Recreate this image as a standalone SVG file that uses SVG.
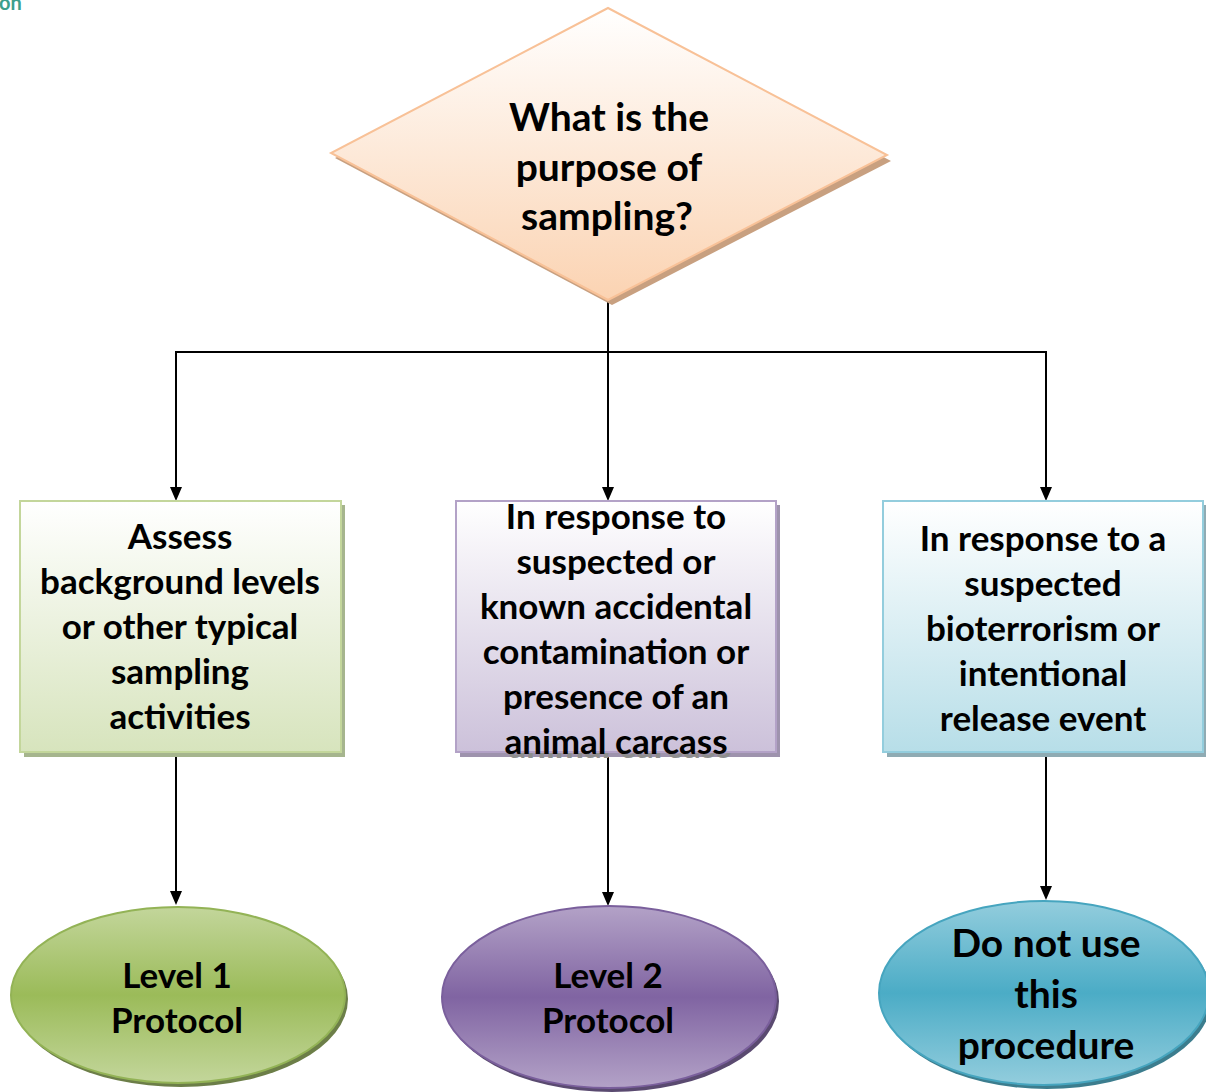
<svg xmlns="http://www.w3.org/2000/svg" width="1206" height="1092" viewBox="0 0 1206 1092">
<style>
.t{font-family:Lato,"Liberation Sans",sans-serif;font-weight:bold;fill:#000;text-anchor:middle}
.s37{font-size:35px}
.s41{font-size:39px}
.conn{stroke:#000;stroke-width:2;fill:none}
</style>
<defs>
<linearGradient id="gD" x1="0" y1="0" x2="0" y2="1"><stop offset="0" stop-color="#ffffff"/><stop offset="1" stop-color="#fbd3b2"/></linearGradient>
<linearGradient id="gB1" x1="0" y1="0" x2="0" y2="1"><stop offset="0" stop-color="#ffffff"/><stop offset="1" stop-color="#d7e4bd"/></linearGradient>
<linearGradient id="gB2" x1="0" y1="0" x2="0" y2="1"><stop offset="0" stop-color="#ffffff"/><stop offset="1" stop-color="#ccc1da"/></linearGradient>
<linearGradient id="gB3" x1="0" y1="0" x2="0" y2="1"><stop offset="0" stop-color="#ffffff"/><stop offset="1" stop-color="#b7dee8"/></linearGradient>
<linearGradient id="gE1" x1="0" y1="0" x2="0" y2="1"><stop offset="0" stop-color="#c3d69b"/><stop offset="0.5" stop-color="#9bbb59"/><stop offset="1" stop-color="#c3d69b"/></linearGradient>
<linearGradient id="gE2" x1="0" y1="0" x2="0" y2="1"><stop offset="0" stop-color="#b3a2c7"/><stop offset="0.5" stop-color="#8064a2"/><stop offset="1" stop-color="#b3a2c7"/></linearGradient>
<linearGradient id="gE3" x1="0" y1="0" x2="0" y2="1"><stop offset="0" stop-color="#93cddd"/><stop offset="0.5" stop-color="#4bacc6"/><stop offset="1" stop-color="#93cddd"/></linearGradient>
</defs>
<rect width="1206" height="1092" fill="#fff"/>
<text x="-1" y="10" style="font-family:Lato,'Liberation Sans',sans-serif;font-weight:bold;font-size:20px;fill:#3c9f8c">on</text>

<g id="connectors">
<line class="conn" x1="608" y1="300" x2="608" y2="488"/>
<polyline class="conn" points="176,488 176,352 1046,352 1046,488"/>
<path d="M170,487 L182,487 L176,501 Z M602,487 L614,487 L608,501 Z M1040,487 L1052,487 L1046,501 Z"/>
<line class="conn" x1="176" y1="752" x2="176" y2="892"/>
<line class="conn" x1="608" y1="752" x2="608" y2="893"/>
<line class="conn" x1="1046" y1="752" x2="1046" y2="887"/>
<path d="M170,891 L182,891 L176,905 Z M602,892 L614,892 L608,906 Z M1040,886 L1052,886 L1046,900 Z"/>
</g>

<g id="decision">
<polygon points="612,14 891,161 612,305 335,158" fill="#c8a080"/>
<polygon points="608,8 887,155 608,300 331,153" fill="url(#gD)" stroke="#f8c197" stroke-width="2"/>
<text class="t s41" x="609" y="131">What is the</text>
<text class="t s41" x="609" y="181">purpose of</text>
<text class="t s41" x="607" y="230">sampling?</text>
</g>

<g id="box1">
<rect x="24" y="505" width="321" height="252" fill="#a6b58e"/>
<rect x="20" y="501" width="321" height="251" fill="url(#gB1)" stroke="#c3d69b" stroke-width="2"/>
<text class="t s37" x="180" y="549">Assess</text>
<text class="t s37" x="180" y="594">background levels</text>
<text class="t s37" x="180" y="639">or other typical</text>
<text class="t s37" x="180" y="684">sampling</text>
<text class="t s37" x="180" y="729">activities</text>
</g>

<g id="box2">
<rect x="460" y="505" width="320" height="252" fill="#9e93ad"/>
<text class="t s37" x="620" y="758" style="fill:#8e8e8e">animal carcass</text>
<rect x="456" y="501" width="320" height="251" fill="url(#gB2)" stroke="#b3a2c7" stroke-width="2"/>
<text class="t s37" x="616" y="529">In response to</text>
<text class="t s37" x="616" y="574">suspected or</text>
<text class="t s37" x="616" y="619">known accidental</text>
<text class="t s37" x="616" y="664">contamination or</text>
<text class="t s37" x="616" y="709">presence of an</text>
<text class="t s37" x="616" y="754">animal carcass</text>
</g>

<g id="box3">
<rect x="887" y="505" width="320" height="252" fill="#8fabb3"/>
<rect x="883" y="501" width="320" height="251" fill="url(#gB3)" stroke="#93cddd" stroke-width="2"/>
<text class="t s37" x="1043" y="551">In response to a</text>
<text class="t s37" x="1043" y="596">suspected</text>
<text class="t s37" x="1043" y="641">bioterrorism or</text>
<text class="t s37" x="1043" y="686">intentional</text>
<text class="t s37" x="1043" y="731">release event</text>
</g>

<g id="end1">
<ellipse cx="181" cy="999" rx="167" ry="88" fill="#6c7e48"/>
<ellipse cx="178" cy="995" rx="167" ry="88" fill="url(#gE1)" stroke="#93b356" stroke-width="2"/>
<text class="t s37" x="177" y="988">Level 1</text>
<text class="t s37" x="177" y="1033">Protocol</text>
</g>

<g id="end2">
<ellipse cx="612" cy="1001" rx="167" ry="91" fill="#5a4a70"/>
<ellipse cx="609" cy="997" rx="167" ry="91" fill="url(#gE2)" stroke="#7a5f9c" stroke-width="2"/>
<text class="t s37" x="608" y="988">Level 2</text>
<text class="t s37" x="608" y="1033">Protocol</text>
</g>

<g id="end3">
<ellipse cx="1047" cy="997" rx="165" ry="92" fill="#3c7d8e"/>
<ellipse cx="1044" cy="993" rx="165" ry="92" fill="url(#gE3)" stroke="#46a5bf" stroke-width="2"/>
<text class="t s41" x="1046" y="957">Do not use</text>
<text class="t s41" x="1046" y="1008">this</text>
<text class="t s41" x="1046" y="1059">procedure</text>
</g>
</svg>
